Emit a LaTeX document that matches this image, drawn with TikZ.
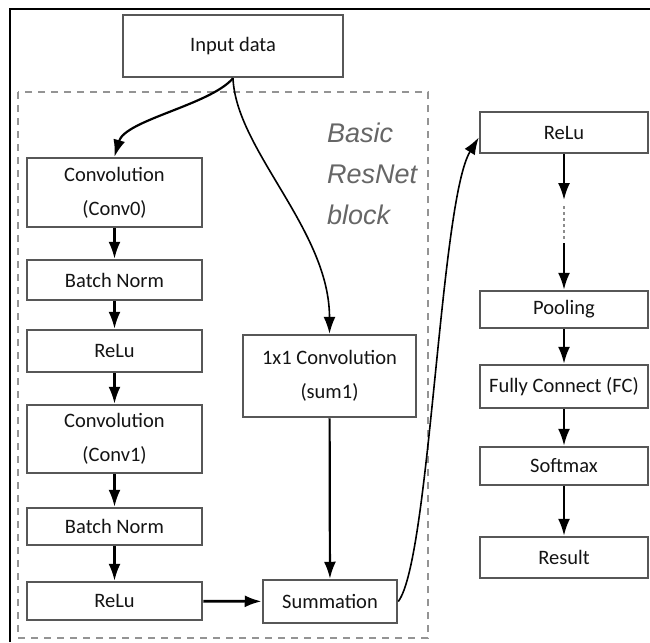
\documentclass[tikz,border=0pt]{standalone}
\usepackage{fontspec}
\setmainfont{Carlito}
\newfontfamily\labelfont{Liberation Sans}
\usetikzlibrary{arrows.meta,positioning}
\begin{document}
\begin{tikzpicture}[x=1pt,y=-1pt,
  blk/.style={draw=black!66,line width=2.5pt,fill=white,inner sep=0pt,
    text=black!92,font=\fontsize{20.5}{34}\selectfont,align=center},
  arr/.style={line width=2.2pt,draw=black,-{Latex[length=17pt,width=12pt]}},
  thinarr/.style={line width=1.6pt,draw=black,-{Latex[length=17pt,width=12pt]}}]
\useasboundingbox (0,0) rectangle (650,642);
% outer frame (partial)
\draw[line width=1.6pt] (10,642) -- (10,9) -- (650,9);
% dashed block
\draw[black!42,line width=2.8pt,dash pattern=on 7pt off 6pt] (18,92) rectangle (428,638);
\node[anchor=north west,align=left,text=black!60,
  font=\labelfont\itshape\fontsize{27}{41}\selectfont,inner sep=0pt] (lbl) at (327,123)
  {Basic\\ResNet\\block};
% nodes
\node[blk,minimum width=220,minimum height=62] (in) at (233,46) {Input data};
\node[blk,minimum width=175,minimum height=69] (c0) at (114.5,192.5) {Convolution\\(Conv0)};
\node[blk,minimum width=175,minimum height=40] (bn1) at (114.5,280) {Batch Norm};
\node[blk,minimum width=175,minimum height=42] (r1) at (114.5,351) {ReLu};
\node[blk,minimum width=175,minimum height=68] (c1) at (114.5,439) {Convolution\\(Conv1)};
\node[blk,minimum width=175,minimum height=37] (bn2) at (114.5,526.5) {Batch Norm};
\node[blk,minimum width=175,minimum height=38] (r2) at (114.5,601) {ReLu};
\node[blk,minimum width=173,minimum height=82] (one) at (329.5,376) {1x1 Convolution\\(sum1)};
\node[blk,minimum width=134,minimum height=43] (sum) at (330,601.5) {Summation};
\node[blk,minimum width=168,minimum height=41] (rr) at (564,132.5) {ReLu};
\node[blk,minimum width=168,minimum height=37] (pool) at (564,309.5) {Pooling};
\node[blk,minimum width=168,minimum height=43] (fc) at (564,386.5) {Fully Connect (FC)};
\node[blk,minimum width=168,minimum height=38] (soft) at (564,466) {Softmax};
\node[blk,minimum width=168,minimum height=41] (res) at (564,557.5) {Result};
\coordinate (d1) at (564,200);
\coordinate (d2) at (564,243);
\coordinate (e1) at (564,206);
\coordinate (e2) at (564,240);
% connectors
\draw[arr] (in.south) .. controls (210,105) and (125,120) .. (c0.north);
\draw[thinarr] (in.south) .. controls (236,150) and (329.5,230) .. (one.north);
\draw[arr] (c0) -- (bn1);
\draw[arr] (bn1) -- (r1);
\draw[arr] (r1) -- (c1);
\draw[arr] (c1) -- (bn2);
\draw[arr] (bn2) -- (r2);
\draw[arr,line width=2.8pt] (r2) -- (sum);
\draw[arr] (one) -- (sum);
\draw[thinarr] (sum.east) .. controls (430,560) and (440,200) .. ([yshift=-5pt]rr.west);
\draw[arr] (rr.south) -- (d1);
\draw[black!45,line width=1.5pt,dash pattern=on 3pt off 3pt] (e1) -- (e2);
\draw[arr] (d2) -- (pool.north);
\draw[arr] (pool) -- (fc);
\draw[arr] (fc) -- (soft);
\draw[arr] (soft) -- (res);
\end{tikzpicture}
\end{document}
